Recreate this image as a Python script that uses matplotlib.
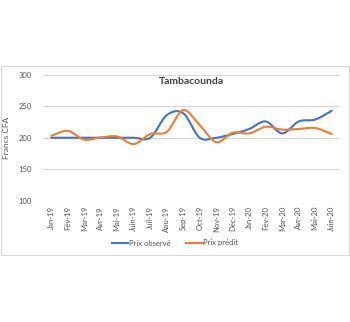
import matplotlib.pyplot as plt
from matplotlib.path import Path
from matplotlib.patches import PathPatch, Rectangle
from matplotlib.lines import Line2D

months = ['Jan-19', 'Fév-19', 'Mar-19', 'Avr-19', 'Mai-19', 'Juin-19', 'Juil-19',
          'Aou-19', 'Sep-19', 'Oct-19', 'Nov-19', 'Déc-19', 'Jan-20', 'Fév-20',
          'Mar-20', 'Avr-20', 'Mai-20', 'Juin-20']
observe = [200, 200, 200, 200, 200, 200, 200, 236, 239, 200, 200, 206, 214, 226,
           207, 226, 229, 243]
predit = [203, 211, 197, 200.5, 202, 190, 206, 209.5, 244, 220, 193, 208, 207, 217.5,
          213, 214, 215.5, 206]

blue = '#4472C4'
orange = '#ED7D31'


def smooth_path(xs, ys):
    # bezier through the points, like excel's smoothed line
    verts = [(xs[0], ys[0])]
    codes = [Path.MOVETO]
    n = len(xs)
    for i in range(n - 1):
        x0, y0 = (xs[i - 1], ys[i - 1]) if i > 0 else (xs[i], ys[i])
        x3, y3 = (xs[i + 2], ys[i + 2]) if i + 2 < n else (xs[i + 1], ys[i + 1])
        c1 = (xs[i] + (xs[i + 1] - x0) / 6, ys[i] + (ys[i + 1] - y0) / 6)
        c2 = (xs[i + 1] - (x3 - xs[i]) / 6, ys[i + 1] - (y3 - ys[i]) / 6)
        verts += [c1, c2, (xs[i + 1], ys[i + 1])]
        codes += [Path.CURVE4] * 3
    return Path(verts, codes)


plt.rcParams['font.family'] = ['Lato', 'DejaVu Sans']
fig = plt.figure(figsize=(3.5, 3.22), dpi=100)
fig.patches.append(Rectangle((1 / 350, 1 - 255 / 322), 348 / 350, 189 / 322,
                             transform=fig.transFigure, fill=False,
                             edgecolor='#d9d9d9', linewidth=0.8))

ax = fig.add_axes([43 / 350, 1 - 200.5 / 322, 297 / 350, 125.5 / 322])
x = list(range(len(months)))
ax.add_patch(PathPatch(smooth_path(x, observe), fill=False, edgecolor=blue,
                       linewidth=1.5, capstyle='round', zorder=3))
ax.add_patch(PathPatch(smooth_path(x, predit), fill=False, edgecolor=orange,
                       linewidth=1.5, capstyle='round', zorder=4))

ax.set_xlim(-0.5, len(months) - 0.5)
ax.set_ylim(100, 300)
ax.set_yticks([100, 150, 200, 250, 300])
ax.set_xticks(x)
ax.set_xticklabels(months, rotation=90, fontsize=5.5, color='#595959')
ax.tick_params(axis='y', labelsize=5.5, colors='#595959', length=0, pad=8)
ax.tick_params(axis='x', length=0, pad=4)
ax.grid(axis='y', color='#d9d9d9', linewidth=0.8)
ax.set_axisbelow(True)
for s in ax.spines.values():
    s.set_visible(False)

ax.set_ylabel('Francs CFA', fontsize=6, color='#595959', labelpad=6)
ax.set_title('Tambacounda', fontsize=7.5, color='#404040', fontweight='bold', y=0.86)

handles = [Line2D([], [], color=blue, lw=1.5), Line2D([], [], color=orange, lw=1.5)]
fig.legend(handles, ['Prix observé', 'Prix prédit'], loc='center',
           bbox_to_anchor=(175 / 350, 1 - 243 / 322), ncol=2, frameon=False,
           fontsize=5.5, handlelength=2.2, handletextpad=0.1, columnspacing=2.0,
           labelcolor='#595959')

fig.savefig('out.png', dpi=100)
